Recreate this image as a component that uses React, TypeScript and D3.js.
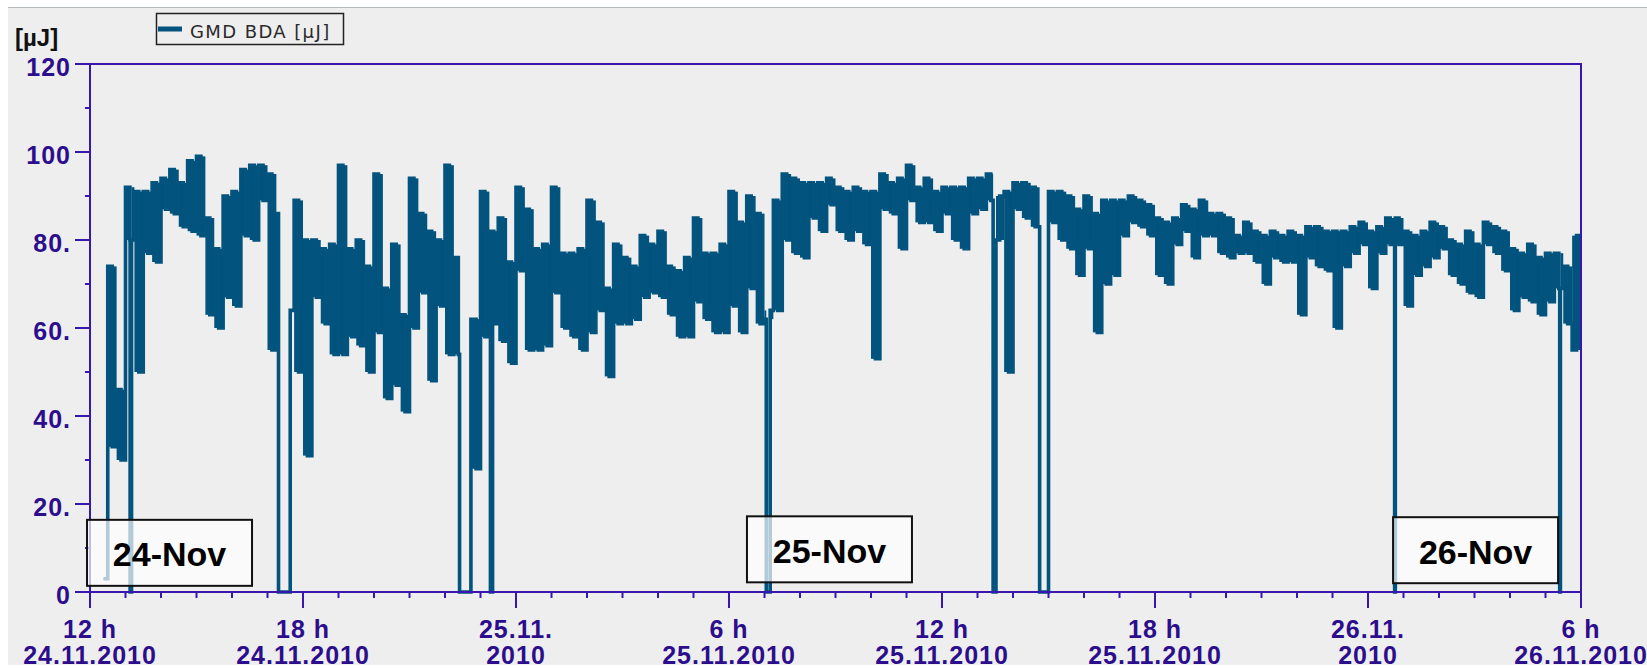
import React from "react";
import * as d3 from "d3";

// Hours after 24.11.2010 12:00. Each row = one hour, 8 readings (7.5 min apart)
const gmdRows: number[][] = [
  [NaN, NaN, NaN, 3, 74, 33, 46, 30],
  [92, 80, 91, 50, 91, 77, 93, 75],
  [94, 87, 96, 86, 93, 83, 98, 82],
  [99, 81, 85, 63, 78, 60, 90, 67],
  [91, 65, 96, 81, 97, 80, 97, 89],
  [95, 55, 86, 61, 64, 64, 89, 50],
  [80, 31, 80, 67, 78, 61, 79, 54],
  [97, 54, 78, 58, 80, 56, 74, 50],
  [95, 59, 69, 44, 79, 47, 63, 41],
  [94, 60, 86, 68, 82, 48, 80, 65],
  [97, 54, 76, 54, 62, 62, 62, 28],
  [91, 58, 82, 61, 85, 57, 75, 52],
  [92, 73, 87, 55, 78, 55, 79, 56],
  [92, 68, 77, 60, 77, 58, 78, 55],
  [89, 59, 84, 64, 69, 49, 79, 61],
  [76, 61, 74, 62, 81, 67, 79, 68],
  [82, 67, 74, 63, 73, 58, 76, 58],
  [85, 66, 77, 62, 77, 59, 79, 59],
  [91, 65, 84, 59, 90, 69, 86, 61],
  [62, 64, 89, 64, 95, 80, 94, 77],
  [93, 76, 93, 85, 93, 82, 94, 88],
  [92, 82, 91, 80, 92, 82, 91, 79],
  [91, 53, 95, 87, 93, 86, 94, 78],
  [97, 89, 92, 84, 94, 84, 91, 82],
  [92, 86, 92, 80, 92, 78, 94, 86],
  [94, 87, 95, 89, 80, 90, 91, 50],
  [93, 87, 93, 85, 92, 83, 0, 0],
  [91, 84, 91, 80, 90, 78, 87, 72],
  [90, 78, 86, 59, 89, 70, 89, 72],
  [89, 81, 90, 84, 89, 83, 88, 81],
  [85, 72, 84, 70, 85, 79, 88, 82],
  [87, 76, 89, 81, 86, 81, 86, 77],
  [85, 76, 81, 77, 84, 77, 82, 75],
  [81, 70, 82, 76, 81, 75, 82, 75],
  [81, 63, 83, 76, 83, 74, 82, 73],
  [82, 60, 82, 74, 83, 77, 84, 79],
  [82, 69, 83, 77, 85, 79, 85, 79],
  [82, 65, 81, 72, 82, 74, 84, 76],
  [83, 78, 80, 72, 79, 70, 82, 68],
  [79, 67, 84, 79, 83, 77, 82, 73],
  [78, 64, 77, 67, 79, 66, 76, 63],
  [77, 66, 77, 69, 74, 61, 55, 81],
];

// Intervals (hours) where the beam was off (value 0)
const dropouts: [number, number][] = [
  [1.13, 1.17],
  [5.31, 5.64],
  [10.41, 10.73],
  [11.28, 11.34],
  [19.05, 19.16],
  [25.44, 25.52],
  [26.75, 27.0],
  [36.75, 36.77],
  [41.4, 41.42],
];

const yTicks = [0, 20, 40, 60, 80, 100, 120];
const yTickLabels = ["0", "20.", "40.", "60.", "80.", "100", "120"];
const yMinor = [10, 30, 50, 70, 90, 110];
const xTickHours = [0, 6, 12, 18, 24, 30, 36, 42];
const xTickLine1 = ["12 h", "18 h", "25.11.", "6 h", "12 h", "18 h", "26.11.", "6 h"];
const xTickLine2 = ["24.11.2010", "24.11.2010", "2010", "25.11.2010", "25.11.2010", "25.11.2010", "2010", "26.11.2010"];
const dayLabels = ["24-Nov", "25-Nov", "26-Nov"];
const dayLabelHours = [2.24, 20.83, 39.03];
const dayLabelTops = [16.4, 17.2, 17.0];

const W = 1647;
const H = 668;
const LINE = "#02537d";
const AXIS = "#3a16b0";
const AXIS_TEXT = "#2c0e8c";

type Pt = { t: number; v: number };
type Band = { t0: number; t1: number; lo: number; hi: number };

function buildSeries(): Pt[] {
  const base: Pt[] = [];
  gmdRows.forEach((row, h) => {
    row.forEach((v, i) => base.push({ t: h + i / 8, v }));
  });
  let pts = base.slice();
  for (const [s, e] of dropouts) {
    let resume = 0;
    for (const p of base) if (p.t <= e) resume = p.v;
    pts = pts.filter((p) => p.t < s || p.t >= e);
    pts.push({ t: s, v: 0 }, { t: e, v: resume });
  }
  pts.sort((a, b) => a.t - b.t);
  pts.push({ t: 42, v: pts[pts.length - 1].v });
  return pts;
}

// per-15-minute envelope of the rapidly oscillating signal, cut at dropouts
function buildBands(): Band[] {
  const out: Band[] = [];
  gmdRows.forEach((row, h) => {
    for (let k = 0; k < 4; k++) {
      const vals = [row[2 * k], row[2 * k + 1]].filter((v) => !isNaN(v));
      if (!vals.length) continue;
      const lo = Math.min(...vals);
      const hi = Math.max(...vals);
      if (hi <= 0) continue;
      let pieces: [number, number][] = [[h + k / 4, h + (k + 1) / 4]];
      for (const [s, e] of dropouts) {
        const next: [number, number][] = [];
        for (const [a, b] of pieces) {
          if (e <= a || s >= b) next.push([a, b]);
          else {
            if (s > a) next.push([a, s]);
            if (e < b) next.push([e, b]);
          }
        }
        pieces = next;
      }
      for (const [a, b] of pieces) out.push({ t0: a, t1: b, lo, hi });
    }
  });
  return out;
}

export default function App() {
  const x = d3.scaleLinear().domain([0, 42]).range([90, 1581]);
  const y = d3.scaleLinear().domain([0, 120]).range([592, 64]);
  const series = buildSeries();
  const bands = buildBands();
  const line = d3
    .line<Pt>()
    .defined((d) => !isNaN(d.v))
    .x((d) => x(d.t))
    .y((d) => y(d.v))
    .curve(d3.curveStepAfter);
  const minorX = d3.range(0, 43).filter((h) => h % 6 !== 0);
  const axisFont = "'Liberation Sans', Arial, sans-serif";

  return (
    <svg
      width={W}
      height={H}
      style={{ position: "absolute", left: 0, top: 0 }}
      xmlns="http://www.w3.org/2000/svg"
    >
      <defs>
        <clipPath id="img">
          <rect x={8} y={7} width={W - 8} height={658} />
        </clipPath>
      </defs>
      <rect x={0} y={0} width={W} height={H} fill="#ffffff" />
      <g clipPath="url(#img)">
        <rect x={8} y={7} width={W - 8} height={658} fill="#eeeeee" />
        <line x1={8} x2={W} y1={7} y2={7} stroke="#b4b9be" strokeWidth={2} />

        {/* legend */}
        <rect x={156.5} y={13.5} width={187} height={31} fill="#eeeeee" stroke="#222" strokeWidth={1.5} />
        <line x1={158} x2={182} y1={29} y2={29} stroke={LINE} strokeWidth={5} />
        <text
          x={190}
          y={37.5}
          fontFamily="'DejaVu Sans', Verdana, sans-serif"
          fontSize={18}
          letterSpacing={1.4}
          fill="#2a2a2a"
        >
          GMD BDA [µJ]
        </text>

        {/* unit label */}
        <text x={15} y={46} fontFamily={axisFont} fontWeight="bold" fontSize={24} fill="#111">
          [µJ]
        </text>

        {/* series: filled envelope plus the step trace */}
        {bands.map((b, i) => (
          <rect
            key={"b" + i}
            x={x(b.t0)}
            y={y(b.hi)}
            width={x(b.t1) - x(b.t0)}
            height={y(b.lo) - y(b.hi)}
            fill={LINE}
          />
        ))}
        <path d={line(series) || ""} fill="none" stroke={LINE} strokeWidth={3.6} strokeLinejoin="miter" />

        {/* frame */}
        <rect x={90} y={64} width={1491} height={528} fill="none" stroke={AXIS} strokeWidth={2} />

        {/* y ticks */}
        {yTicks.map((v, i) => (
          <g key={"y" + v}>
            <line x1={75} x2={90} y1={y(v)} y2={y(v)} stroke={AXIS} strokeWidth={2} />
            <text
              x={71}
              y={y(v) + 12.3}
              textAnchor="end"
              fontFamily={axisFont}
              fontWeight="bold"
              fontSize={25}
              letterSpacing={1}
              fill={AXIS_TEXT}
            >
              {yTickLabels[i]}
            </text>
          </g>
        ))}
        {yMinor.map((v) => (
          <line key={"ym" + v} x1={85} x2={90} y1={y(v)} y2={y(v)} stroke={AXIS} strokeWidth={2} />
        ))}

        {/* x ticks */}
        {minorX.map((h) => (
          <line key={"xm" + h} x1={x(h)} x2={x(h)} y1={592} y2={598} stroke={AXIS} strokeWidth={2} />
        ))}
        {xTickHours.map((h, i) => (
          <g key={"x" + h}>
            <line x1={x(h)} x2={x(h)} y1={592} y2={608} stroke={AXIS} strokeWidth={2} />
            <text
              x={x(h)}
              y={638}
              textAnchor="middle"
              fontFamily={axisFont}
              fontWeight="bold"
              fontSize={25}
              letterSpacing={1}
              fill={AXIS_TEXT}
            >
              {xTickLine1[i]}
            </text>
          </g>
        ))}

        {/* day annotations */}
        {dayLabels.map((lab, i) => {
          const cx = x(dayLabelHours[i]);
          const top = y(dayLabelTops[i]);
          return (
            <g key={lab}>
              <rect
                x={cx - 82.5}
                y={top}
                width={165}
                height={66}
                fill="rgba(255,255,255,0.7)"
                stroke="#111"
                strokeWidth={2}
              />
              <text
                x={cx}
                y={top + 46.5}
                textAnchor="middle"
                fontFamily={axisFont}
                fontWeight="bold"
                fontSize={34}
                fill="#000"
              >
                {lab}
              </text>
            </g>
          );
        })}
      </g>
      {xTickHours.map((h, i) => (
        <text
          key={"x2" + h}
          x={Math.min(x(h), W - 66)}
          y={664}
          textAnchor="middle"
          fontFamily={axisFont}
          fontWeight="bold"
          fontSize={25}
          letterSpacing={1}
          fill={AXIS_TEXT}
        >
          {xTickLine2[i]}
        </text>
      ))}
    </svg>
  );
}
